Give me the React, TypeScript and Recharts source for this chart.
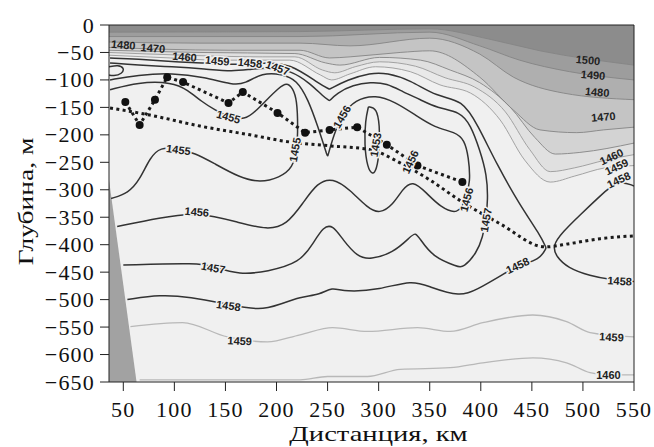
import { ComposedChart, CartesianGrid, XAxis, YAxis, Area, Line, Scatter, Label } from 'recharts';

type Pt = [number, number];

const distanceTicks = [50, 100, 150, 200, 250, 300, 350, 400, 450, 500, 550];
const depthTicks = [0, -50, -100, -150, -200, -250, -300, -350, -400, -450, -500, -550, -600, -650];

// sound speed isolines, [distance km, depth m]
const iso1500: Pt[] = [[36, -13], [223, -12], [350, -7], [409, -26], [458, -47], [550, -73]];
const iso1490: Pt[] = [[36, -21], [223, -21], [350, -13], [399, -38], [438, -64], [487, -85], [550, -100]];
const iso1480: Pt[] = [[36, -31], [125, -33], [223, -33], [272, -38], [350, -24], [399, -53], [432, -95], [481, -124], [550, -136]];
const iso1470: Pt[] = [[36, -41], [86, -44], [155, -46], [223, -46], [252, -60], [272, -58], [321, -50], [350, -47], [399, -95], [432, -155], [458, -191], [494, -196], [520, -191], [550, -186]];
const iso1465: Pt[] = [[36, -46], [125, -50], [218, -52], [248, -69], [262, -73], [301, -59], [341, -64], [370, -82], [399, -105], [429, -150], [453, -205], [473, -235], [497, -232], [550, -215]];
const iso1460top: Pt[] = [[36, -50], [110, -55], [186, -58], [218, -58], [245, -82], [257, -87], [277, -76], [301, -67], [336, -75], [365, -96], [394, -113], [424, -158], [448, -227], [468, -267], [492, -260], [522, -246], [550, -236]];
const iso1459top: Pt[] = [[36, -55], [96, -60], [142, -64], [186, -64], [213, -64], [243, -91], [254, -100], [272, -89], [297, -76], [331, -85], [360, -109], [390, -124], [419, -173], [443, -246], [468, -286], [492, -275], [522, -260], [550, -256]];

const iso1458: Pt[] = [[37, -60], [64, -62], [98, -67], [130, -69], [162, -73], [186, -69], [213, -69], [243, -109], [252, -117], [252, -117], [269, -100], [292, -87], [308, -87], [331, -100], [357, -131], [382, -136], [397, -182], [416, -255], [438, -327], [458, -382], [464, -406], [464, -406], [458, -427], [436, -438], [419, -457], [396, -482], [380, -495], [350, -477], [333, -464], [301, -482], [267, -486], [254, -477], [243, -491], [223, -495], [203, -509], [184, -520], [153, -509], [115, -495], [86, -491], [54, -500]];
const iso1457: Pt[] = [[37, -69], [64, -73], [98, -76], [130, -80], [157, -85], [176, -80], [194, -78], [213, -82], [233, -106], [246, -131], [252, -138], [252, -138], [259, -124], [275, -109], [292, -104], [308, -106], [324, -122], [341, -136], [357, -151], [380, -158], [390, -182], [399, -227], [406, -273], [407, -318], [405, -355], [402, -386], [396, -415], [383, -442], [377, -440], [353, -422], [341, -391], [336, -377], [331, -386], [314, -415], [292, -427], [279, -422], [265, -391], [255, -364], [246, -367], [236, -397], [223, -433], [191, -449], [164, -455], [138, -440], [125, -433], [50, -437]];
const iso1457west: Pt[] = [[36, -76], [45, -73], [51, -78], [49, -89], [40, -93], [36, -91]];
const iso1456: Pt[] = [[37, -100], [64, -91], [98, -87], [130, -95], [157, -109], [169, -107], [186, -87], [205, -89], [220, -100], [231, -136], [240, -182], [250, -240], [250, -240], [256, -200], [264, -164], [277, -136], [297, -127], [316, -140], [336, -164], [355, -187], [375, -195], [384, -209], [388, -240], [390, -286], [385, -318], [378, -346], [360, -331], [347, -306], [333, -282], [323, -300], [314, -327], [301, -344], [289, -333], [272, -300], [255, -278], [240, -287], [226, -324], [210, -364], [191, -373], [164, -360], [122, -340], [86, -351], [44, -367]];
const iso1455: Pt[] = [[37, -118], [64, -104], [98, -104], [113, -118], [127, -140], [140, -155], [153, -167], [169, -173], [179, -158], [191, -135], [202, -115], [210, -104], [216, -115], [220, -136], [221, -186], [220, -227], [216, -260], [203, -278], [184, -287], [164, -278], [138, -251], [120, -233], [104, -226], [86, -222], [76, -242], [66, -282], [55, -306], [38, -316]];
const iso1453: Pt[] = [[290, -149], [298, -151], [301, -182], [301, -227], [298, -264], [294, -273], [289, -260], [286, -218], [287, -173], [290, -149]];
const iso1458east: Pt[] = [[550, -293], [534, -282], [517, -311], [497, -346], [480, -377], [470, -402], [474, -422], [485, -442], [507, -457], [528, -464], [550, -467]];
const iso1459deep: Pt[] = [[57, -549], [108, -542], [152, -568], [191, -577], [223, -564], [255, -551], [289, -558], [338, -551], [370, -558], [402, -542], [451, -528], [484, -540], [507, -560], [550, -568]];
const iso1460deep: Pt[] = [[66, -646], [125, -646], [190, -646], [223, -646], [250, -640], [289, -640], [321, -627], [370, -624], [402, -615], [451, -606], [484, -615], [507, -633], [525, -637], [550, -637]];

// shelf slope
const slopeEdge: Pt[] = [[36, -282], [63, -650]];

// dotted tracks and stations
const trackLower: Pt[] = [[37, -151], [76, -164], [125, -184], [174, -200], [213, -213], [252, -220], [292, -227], [321, -251], [350, -282], [380, -320], [419, -362], [463, -404], [487, -398], [517, -389], [550, -384]];
const stations: Pt[] = [[52, -140], [66, -182], [81, -136], [93, -95], [108.5, -104], [153, -142], [167, -122], [201, -160], [228, -196], [252, -191], [279, -186], [308, -218], [338, -256], [382, -286]];

const isoLabelPos: Pt[] = [
  [50, -36], [79, -42], [110, -58], [142, -65], [174, -69], [201, -78],
  [153, -167], [104, -227], [122, -340], [138, -442], [153, -511], [164, -575],
  [218, -227], [264, -167], [297, -218], [331, -249], [386, -318], [405, -355], [436, -438],
  [528, -240], [533, -258], [535, -282],
  [505, -64], [510, -91], [514, -122], [520, -167],
  [536, -466], [528, -568], [525, -637],
];
const isoLabelText = [
  '1480', '1470', '1460', '1459', '1458', '1457',
  '1455', '1455', '1456', '1457', '1458', '1459',
  '1455', '1456', '1453', '1456', '1456', '1457', '1458',
  '1460', '1459', '1458',
  '1500', '1490', '1480', '1470',
  '1458', '1459', '1460',
];
const isoLabelAngle = [
  5, 5, 5, 5, 5, 20,
  15, 8, 5, 10, 8, 3,
  -80, -60, -80, -65, -75, -80, -25,
  -25, -25, -25,
  5, 5, 5, -5,
  3, 3, 0,
];

const pts = (a: Pt[]) => a.map(([x, y]) => ({ x, y }));

const labelData = isoLabelPos.map(([x, y], i) => ({ x, y, t: isoLabelText[i], a: isoLabelAngle[i] }));

const SERIF = '"Liberation Serif", "Times New Roman", serif';
const SANS = '"Liberation Sans", Arial, sans-serif';
const BG = '#f0f0f0';

const DistTick = ({ x, y, payload }: any) => (
  <text x={x} y={y + 24} textAnchor="middle" fontFamily={SERIF} fontSize={22} letterSpacing={1.2} fill="#111">
    {payload.value}
  </text>
);

const DepthTick = ({ x, y, payload }: any) => (
  <text x={x - 3} y={y + 7.5} textAnchor="end" fontFamily={SERIF} fontSize={22} letterSpacing={1.2} fill="#111">
    {payload.value < 0 ? `\u2212${-payload.value}` : '0'}
  </text>
);

const DistTitle = ({ viewBox }: any) => (
  <text
    transform={`translate(${viewBox.x + viewBox.width / 2 + 7}, ${viewBox.y + viewBox.height - 6}) scale(1.3, 1)`}
    textAnchor="middle"
    fontFamily={SERIF}
    fontSize={22}
    fill="#111"
  >
    Дистанция, км
  </text>
);

const DepthTitle = ({ viewBox }: any) => (
  <text
    transform={`translate(${viewBox.x + 33}, ${viewBox.y + viewBox.height / 2 - 2}) rotate(-90) scale(1.25, 1)`}
    textAnchor="middle"
    fontFamily={SERIF}
    fontSize={22}
    fill="#111"
  >
    Глубина, м
  </text>
);

const IsoLabel = (props: any) => {
  const { cx, cy, payload } = props;
  const halo = Number(payload.t) <= 1459 || payload.y < -600;
  return (
    <text
      x={cx}
      y={cy}
      transform={`rotate(${payload.a}, ${cx}, ${cy})`}
      textAnchor="middle"
      dominantBaseline="central"
      fontFamily={SANS}
      fontWeight="bold"
      fontSize={11}
      fill="#222"
      stroke={halo ? BG : 'none'}
      strokeWidth={3}
      paintOrder="stroke"
    >
      {payload.t}
    </text>
  );
};

const StationDot = (props: any) => <circle cx={props.cx} cy={props.cy} r={4} fill="#111" />;

const upperFills: { d: Pt[]; fill: string }[] = [
  { d: iso1459top, fill: '#e9e9e9' },
  { d: iso1460top, fill: '#e0e0e0' },
  { d: iso1465, fill: '#d3d3d3' },
  { d: iso1470, fill: '#c4c4c4' },
  { d: iso1480, fill: '#afafaf' },
  { d: iso1490, fill: '#9d9d9d' },
  { d: iso1500, fill: '#8c8c8c' },
];

const darkIsolines = [iso1458, iso1457, iso1457west, iso1456, iso1455, iso1453, iso1458east];

const App = () => {
  return (
    <div style={{ position: 'absolute', left: 0, top: 0 }}>
      <ComposedChart width={654} height={447} margin={{ top: 0, right: 0, bottom: 0, left: 0 }}>
        <CartesianGrid fill={BG} horizontal={false} vertical={false} />
        <XAxis
          dataKey="x"
          type="number"
          domain={[36, 550]}
          ticks={distanceTicks}
          allowDataOverflow
          height={65}
          tickSize={9}
          stroke="#222"
          tick={<DistTick />}
        >
          <Label content={DistTitle} />
        </XAxis>
        <XAxis
          xAxisId="top"
          orientation="top"
          type="number"
          domain={[36, 550]}
          ticks={distanceTicks}
          allowDataOverflow
          height={25}
          tickSize={9}
          stroke="#222"
          tick={false}
        />
        <YAxis
          type="number"
          domain={[-650, 0]}
          ticks={depthTicks}
          allowDataOverflow
          width={109}
          tickSize={9}
          stroke="#222"
          tick={<DepthTick />}
        >
          <Label content={DepthTitle} />
        </YAxis>
        <YAxis
          yAxisId="right"
          orientation="right"
          type="number"
          domain={[-650, 0]}
          ticks={depthTicks}
          allowDataOverflow
          width={20}
          tickSize={9}
          stroke="#222"
          tick={false}
        />

        {upperFills.map((f, i) => (
          <Area
            key={`fill${i}`}
            data={pts(f.d)}
            dataKey="y"
            type="monotone"
            baseValue={0}
            stroke="none"
            fill={f.fill}
            fillOpacity={1}
            isAnimationActive={false}
          />
        ))}

        <Area
          data={pts(slopeEdge)}
          dataKey="y"
          type="linear"
          baseValue="dataMin"
          stroke="none"
          fill="#a2a2a2"
          fillOpacity={1}
          isAnimationActive={false}
        />

        {upperFills.map((f, i) => (
          <Line
            key={`up${i}`}
            data={pts(f.d)}
            dataKey="y"
            type="monotone"
            stroke={i < 2 ? '#9a9a9a' : '#858585'}
            strokeWidth={0.9}
            dot={false}
            activeDot={false}
            isAnimationActive={false}
          />
        ))}

        {[iso1459deep, iso1460deep].map((d, i) => (
          <Line
            key={`deep${i}`}
            data={pts(d)}
            dataKey="y"
            type="monotone"
            stroke="#b8b8b8"
            strokeWidth={1.3}
            dot={false}
            activeDot={false}
            isAnimationActive={false}
          />
        ))}

        {darkIsolines.map((d, i) => (
          <Line
            key={`iso${i}`}
            data={pts(d)}
            dataKey="y"
            type="basis"
            stroke="#333"
            strokeWidth={1.5}
            dot={false}
            activeDot={false}
            isAnimationActive={false}
          />
        ))}

        <Line
          data={pts(trackLower)}
          dataKey="y"
          type="monotone"
          stroke="#1a1a1a"
          strokeWidth={3}
          strokeDasharray="3 3.4"
          dot={false}
          activeDot={false}
          isAnimationActive={false}
        />
        <Line
          data={pts(stations)}
          dataKey="y"
          type="linear"
          stroke="#1a1a1a"
          strokeWidth={3}
          strokeDasharray="3 3.4"
          dot={false}
          activeDot={false}
          isAnimationActive={false}
        />
        <Scatter data={pts(stations)} dataKey="y" shape={<StationDot />} isAnimationActive={false} />
        <Scatter data={labelData} dataKey="y" shape={<IsoLabel />} isAnimationActive={false} />
      </ComposedChart>
    </div>
  );
};

export default App;
